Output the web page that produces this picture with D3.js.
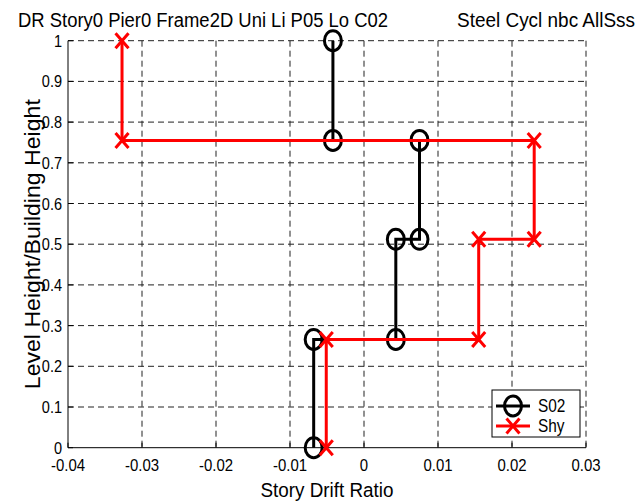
<!DOCTYPE html>
<html><head><meta charset="utf-8">
<script src="https://cdn.jsdelivr.net/npm/d3@7"></script>
<style>body{margin:0;background:#fff}text{font-family:"Liberation Sans",Arial,sans-serif;fill:#000}</style>
</head><body><svg id="chart" width="641" height="504"></svg>
<script>
// Story drift profiles: normalized level height vs. drift ratio
const levels = [0, 0.266, 0.266, 0.512, 0.512, 0.755, 0.755, 1];
const driftS02 = [-0.0068, -0.0068, 0.0043, 0.0043, 0.0075, 0.0075, -0.0042, -0.0042];
const driftShy = [-0.0051, -0.0051, 0.0155, 0.0155, 0.023, 0.023, -0.0327, -0.0327];
const seriesNames = ["S02", "Shy"];
const seriesColors = ["#000000", "#ff0000"];
const xTicks = [-0.04, -0.03, -0.02, -0.01, 0, 0.01, 0.02, 0.03];
const yTicks = [0, 0.1, 0.2, 0.3, 0.4, 0.5, 0.6, 0.7, 0.8, 0.9, 1];
const titleLeft = "DR Story0 Pier0 Frame2D Uni Li P05 Lo C02";
const titleRight = "Steel Cycl nbc AllSss";
const xLabel = "Story Drift Ratio";
const yLabel = "Level Height/Building Height";

const svg = d3.select("#chart");
const plot = {left: 68, right: 586, top: 40.7, bottom: 447.7};
const x = d3.scaleLinear().domain([-0.04, 0.03]).range([plot.left, plot.right]);
const y = d3.scaleLinear().domain([0, 1]).range([plot.bottom, plot.top]);
const SX = 0.88; // narrow glyphs

function label(g, px, py, str, size, anchor, rot) {
  return g.append("text")
    .attr("transform", `translate(${px},${py})` + (rot ? ` rotate(${rot})` : "") + ` scale(${SX},1)`)
    .attr("text-anchor", anchor).attr("font-size", size).text(str);
}

// grid
const grid = svg.append("g").attr("stroke", "#222").attr("stroke-width", 1).attr("stroke-dasharray", "6,4");
grid.selectAll(".gx").data(xTicks.slice(1)).join("line")
  .attr("x1", d => x(d)).attr("x2", d => x(d)).attr("y1", plot.top).attr("y2", plot.bottom);
grid.selectAll(".gy").data(yTicks.slice(1)).join("line")
  .attr("x1", plot.left).attr("x2", plot.right).attr("y1", d => y(d)).attr("y2", d => y(d));

// axes
const ax = svg.append("g").attr("stroke", "#000").attr("stroke-width", 1);
ax.append("line").attr("x1", plot.left).attr("x2", plot.left).attr("y1", plot.top).attr("y2", plot.bottom);
ax.append("line").attr("x1", plot.left).attr("x2", plot.right).attr("y1", plot.bottom).attr("y2", plot.bottom);
ax.selectAll(".tx").data(xTicks).join("line")
  .attr("x1", d => x(d)).attr("x2", d => x(d)).attr("y1", plot.bottom).attr("y2", plot.bottom - 5);
ax.selectAll(".ty").data(yTicks).join("line")
  .attr("x1", plot.left).attr("x2", plot.left + 5).attr("y1", d => y(d)).attr("y2", d => y(d));

const lbl = svg.append("g");
xTicks.forEach(t => label(lbl, x(t), 471, String(t), 17, "middle"));
yTicks.forEach(t => label(lbl, plot.left - 6, y(t) + 6, String(t), 16.5, "end"));

// series
const pts = [driftS02, driftShy].map(arr => arr.map((v, i) => [v, levels[i]]));
const line = d3.line().x(d => x(d[0])).y(d => y(d[1]));

function circleMarker(g, cx, cy, color) {
  g.append("ellipse").attr("cx", cx).attr("cy", cy).attr("rx", 8.5).attr("ry", 10)
    .attr("fill", "none").attr("stroke", color).attr("stroke-width", 3);
}
function crossMarker(g, cx, cy, color) {
  g.append("path").attr("d", `M${cx - 6.5},${cy - 7.5}L${cx + 6.5},${cy + 7.5}M${cx - 6.5},${cy + 7.5}L${cx + 6.5},${cy - 7.5}`)
    .attr("stroke", color).attr("stroke-width", 3).attr("fill", "none");
}
const markers = [circleMarker, crossMarker];

pts.forEach((p, k) => {
  const g = svg.append("g");
  g.append("path").attr("d", line(p)).attr("fill", "none")
    .attr("stroke", seriesColors[k]).attr("stroke-width", 3);
  p.forEach(d => markers[k](g, x(d[0]), y(d[1]), seriesColors[k]));
});

// legend
const lg = svg.append("g");
lg.append("rect").attr("x", 492).attr("y", 390).attr("width", 88).attr("height", 47)
  .attr("fill", "#fff").attr("stroke", "#000").attr("stroke-width", 1);
seriesNames.forEach((n, k) => {
  const ly = 406 + k * 20;
  lg.append("line").attr("x1", 496).attr("x2", 530).attr("y1", ly).attr("y2", ly)
    .attr("stroke", seriesColors[k]).attr("stroke-width", 3);
  markers[k](lg, 513, ly, seriesColors[k]);
  label(lg, 538, ly + 6, n, 17.5, "start");
});

// titles
svg.append("text").attr("x", 18).attr("y", 27).attr("font-size", 20)
  .attr("textLength", 370).attr("lengthAdjust", "spacingAndGlyphs").text(titleLeft);
svg.append("text").attr("x", 457).attr("y", 27).attr("font-size", 20)
  .attr("textLength", 178).attr("lengthAdjust", "spacingAndGlyphs").text(titleRight);
svg.append("text").attr("text-anchor", "middle").attr("font-size", 20.5)
  .attr("transform", `translate(${(plot.left + plot.right) / 2},497)`)
  .attr("textLength", 133).attr("lengthAdjust", "spacingAndGlyphs").text(xLabel);
svg.append("text").attr("text-anchor", "middle").attr("font-size", 22)
  .attr("transform", `translate(40,${(plot.top + plot.bottom) / 2}) rotate(-90)`)
  .attr("textLength", 290).attr("lengthAdjust", "spacingAndGlyphs").text(yLabel);
</script></body></html>
